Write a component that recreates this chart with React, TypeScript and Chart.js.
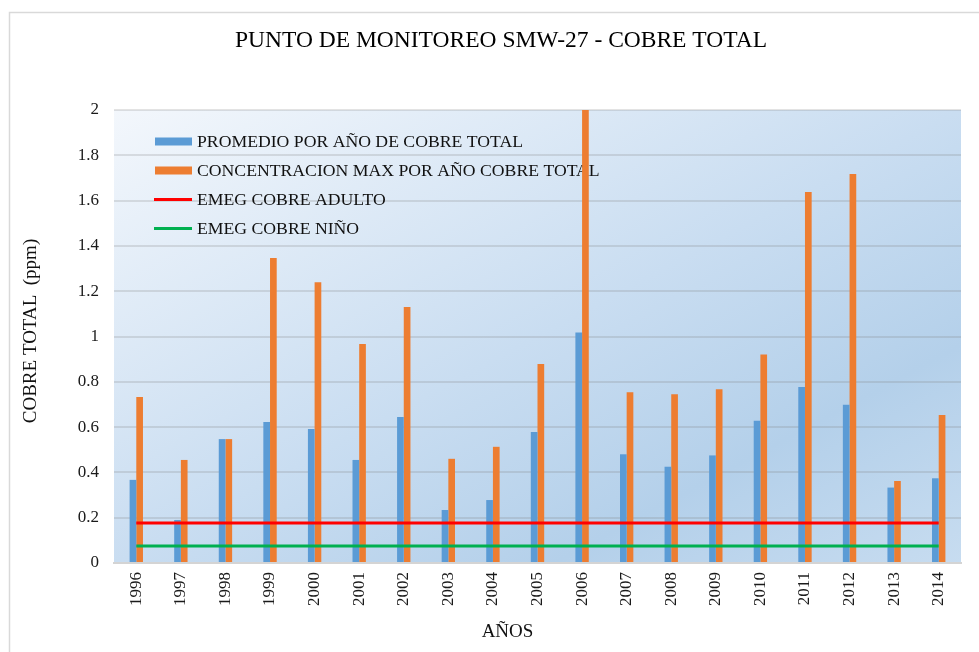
import React, { useEffect, useRef } from "react";
import { Chart, registerables } from "chart.js";

Chart.register(...registerables);

const YEARS = ["1996", "1997", "1998", "1999", "2000", "2001", "2002", "2003", "2004", "2005", "2006", "2007", "2008", "2009", "2010", "2011", "2012", "2013", "2014"];
const PROMEDIO = [0.367, 0.19, 0.547, 0.623, 0.592, 0.455, 0.645, 0.234, 0.278, 0.578, 1.018, 0.48, 0.425, 0.475, 0.628, 0.777, 0.699, 0.333, 0.374];
const MAXIMA = [0.733, 0.455, 0.547, 1.347, 1.24, 0.967, 1.13, 0.46, 0.513, 0.879, 2.0, 0.754, 0.745, 0.767, 0.92, 1.638, 1.717, 0.362, 0.653];
const EMEG_ADULTO = [0.177, 0.177, 0.177, 0.177, 0.177, 0.177, 0.177, 0.177, 0.177, 0.177, 0.177, 0.177, 0.177, 0.177, 0.177, 0.177, 0.177, 0.177, 0.177];
const EMEG_NINO = [0.075, 0.075, 0.075, 0.075, 0.075, 0.075, 0.075, 0.075, 0.075, 0.075, 0.075, 0.075, 0.075, 0.075, 0.075, 0.075, 0.075, 0.075, 0.075];

const TITLE = "PUNTO DE MONITOREO SMW-27 - COBRE TOTAL";
const Y_TITLE = "COBRE TOTAL  (ppm)";
const X_TITLE = "AÑOS";
const LABELS = [
  "PROMEDIO POR AÑO DE COBRE TOTAL",
  "CONCENTRACION MAX POR AÑO COBRE TOTAL",
  "EMEG COBRE ADULTO",
  "EMEG COBRE NIÑO",
];

const BLUE = "#5b9bd5";
const ORANGE = "#ed7d31";
const RED = "#ff0000";
const GREEN = "#00b050";
const SERIF = "'Liberation Serif', 'Times New Roman', serif";

const framePlugin = {
  id: "frame",
  beforeDraw(chart: any) {
    const { ctx, chartArea: a } = chart;
    ctx.save();
    ctx.fillStyle = "#ffffff";
    ctx.fillRect(0, 0, chart.width, chart.height);
    ctx.strokeStyle = "#d9d9d9";
    ctx.lineWidth = 1.5;
    ctx.strokeRect(9.5, 12.5, chart.width + 20, chart.height + 20);
    // plot background gradient
    const W = a.right - a.left;
    const H = a.bottom - a.top;
    const cx = (a.left + a.right) / 2;
    const cy = (a.top + a.bottom) / 2;
    const len = Math.sqrt(W * W + H * H);
    const nx = H / len;
    const ny = W / len;
    const t = (W * H) / len;
    const g = ctx.createLinearGradient(cx - nx * t, cy - ny * t, cx + nx * t, cy + ny * t);
    g.addColorStop(0, "#f3f7fc");
    g.addColorStop(0.5, "#c9ddf1");
    g.addColorStop(0.76, "#b4d0ea");
    g.addColorStop(1, "#c7dcf0");
    ctx.fillStyle = g;
    ctx.fillRect(a.left, a.top, W, H);
    // chart title
    ctx.fillStyle = "#000000";
    ctx.font = `23.5px ${SERIF}`;
    ctx.textAlign = "center";
    ctx.textBaseline = "middle";
    ctx.fillText(TITLE, 501, 41);
    // axis titles
    ctx.fillStyle = "#111111";
    ctx.font = `19px ${SERIF}`;
    ctx.fillText(X_TITLE, 507.5, 632);
    ctx.save();
    ctx.translate(31, 331);
    ctx.rotate(-Math.PI / 2);
    ctx.fillText(Y_TITLE, 0, 0);
    ctx.restore();
    ctx.restore();
  },
};

const legendPlugin = {
  id: "insideLegend",
  beforeDatasetsDraw(chart: any) {
    const { ctx } = chart;
    const rows = [141.5, 170.5, 199.5, 228.5];
    const colors = [BLUE, ORANGE, RED, GREEN];
    ctx.save();
    ctx.font = `17.7px ${SERIF}`;
    ctx.textAlign = "left";
    ctx.textBaseline = "middle";
    rows.forEach((y, i) => {
      ctx.fillStyle = colors[i];
      if (i < 2) {
        ctx.fillRect(155, y - 4, 37, 8);
      } else {
        ctx.fillRect(154, y - 1.5, 38, 3);
      }
      ctx.fillStyle = "#111111";
      ctx.fillText(LABELS[i], 197, y + 1);
    });
    ctx.restore();
  },
};

export default function App() {
  const ref = useRef<HTMLCanvasElement | null>(null);

  useEffect(() => {
    document.body.style.margin = "0";
    document.body.style.overflow = "hidden";
    const canvas = ref.current;
    if (!canvas) return;
    const chart = new Chart(canvas, {
      type: "bar",
      data: {
        labels: YEARS,
        datasets: [
          {
            type: "bar",
            label: LABELS[0],
            data: PROMEDIO,
            backgroundColor: BLUE,
            categoryPercentage: 0.3,
            barPercentage: 1.0,
            order: 2,
          },
          {
            type: "bar",
            label: LABELS[1],
            data: MAXIMA,
            backgroundColor: ORANGE,
            categoryPercentage: 0.3,
            barPercentage: 1.0,
            order: 2,
          },
          {
            type: "line",
            label: LABELS[2],
            data: EMEG_ADULTO,
            borderColor: RED,
            borderWidth: 3,
            pointRadius: 0,
            fill: false,
            order: 0,
          },
          {
            type: "line",
            label: LABELS[3],
            data: EMEG_NINO,
            borderColor: GREEN,
            borderWidth: 3,
            pointRadius: 0,
            fill: false,
            order: 0,
          },
        ] as any,
      },
      options: {
        animation: false,
        responsive: false,
        events: [],
        layout: { padding: { left: 22, top: 110, right: 18, bottom: 10 } },
        plugins: {
          legend: { display: false },
          title: { display: false },
          tooltip: { enabled: false },
        },
        scales: {
          x: {
            grid: { display: false, drawTicks: false },
            border: { display: true, color: "#d4d4d4", width: 2 },
            ticks: {
              minRotation: 90,
              maxRotation: 90,
              padding: 9,
              color: "#1a1a1a",
              font: { family: SERIF, size: 17 },
            },
            title: { display: false, text: X_TITLE },
            afterFit(scale: any) {
              scale.height = 79;
            },
          },
          y: {
            min: 0,
            max: 2,
            grid: {
              drawTicks: false,
              lineWidth: 2,
              color: (c: any) => (c.tick && c.tick.value === 0 ? "#d4d4d4" : "rgba(128,128,128,0.22)"),
            },
            border: { display: false },
            ticks: {
              stepSize: 0.2,
              padding: 15,
              color: "#1a1a1a",
              font: { family: SERIF, size: 17 },
              callback: (v: any) => String(Number(Number(v).toFixed(1))),
            },
            title: { display: false, text: Y_TITLE },
            afterFit(scale: any) {
              scale.width = 92;
            },
          },
        },
      },
      plugins: [framePlugin, legendPlugin],
    });
    return () => chart.destroy();
  }, []);

  return <canvas ref={ref} width={979} height={652} style={{ display: "block" }} />;
}
